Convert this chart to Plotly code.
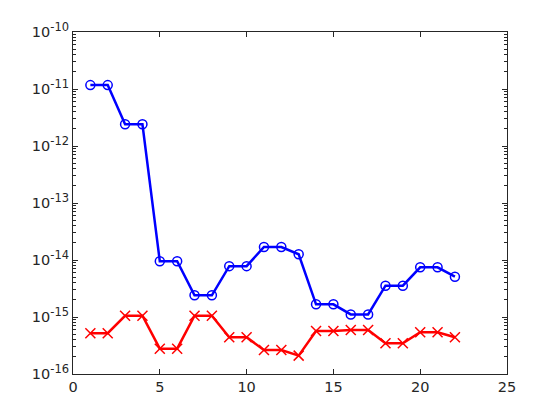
import plotly.graph_objects as go

x = list(range(1, 23))
blue = [1.17e-11, 1.17e-11, 2.4e-12, 2.4e-12, 9.5e-15, 9.5e-15, 2.4e-15, 2.4e-15,
        7.8e-15, 7.8e-15, 1.69e-14, 1.69e-14, 1.26e-14, 1.67e-15, 1.67e-15,
        1.11e-15, 1.11e-15, 3.54e-15, 3.54e-15, 7.45e-15, 7.45e-15, 5.1e-15]
red = [5.2e-16, 5.2e-16, 1.05e-15, 1.05e-15, 2.78e-16, 2.78e-16, 1.05e-15, 1.05e-15,
       4.4e-16, 4.4e-16, 2.64e-16, 2.64e-16, 2.1e-16, 5.7e-16, 5.7e-16,
       5.9e-16, 5.9e-16, 3.46e-16, 3.46e-16, 5.4e-16, 5.4e-16, 4.4e-16]

ytick_vals = [1e-16, 1e-15, 1e-14, 1e-13, 1e-12, 1e-11, 1e-10]
ytick_exps = ["-16", "-15", "-14", "-13", "-12", "-11", "-10"]
ytick_text = ["10<sup><span style='font-size:11.5px'>%s</span></sup>" % e for e in ytick_exps]
xtick_vals = [0, 5, 10, 15, 20, 25]
yminor_vals = [m * d for d in ytick_vals[:-1] for m in range(2, 10)]

fig = go.Figure()
fig.add_trace(go.Scatter(x=x, y=blue, mode="lines+markers",
                         line=dict(color="#0000ff", width=2.5),
                         marker=dict(symbol="circle-open", size=9, color="#0000ff", line=dict(width=1.5))))
fig.add_trace(go.Scatter(x=x, y=red, mode="lines+markers",
                         line=dict(color="#ff0000", width=2.5),
                         marker=dict(symbol="x-thin-open", size=10, color="#ff0000", line=dict(width=1.5, color="#ff0000"))))

axcol = "#262626"
fig.update_layout(
    width=560, height=420, showlegend=False,
    paper_bgcolor="white", plot_bgcolor="white",
    margin=dict(l=65, r=61, t=24, b=54),
    font=dict(family="DejaVu Sans", size=14.5, color=axcol),
    xaxis=dict(range=[0, 25], tickvals=xtick_vals, ticks="inside", ticklen=5,
               showline=True, linecolor=axcol, linewidth=1, mirror="allticks",
               showgrid=False, zeroline=False, tickcolor=axcol),
    yaxis=dict(type="log", range=[-16, -10], tickvals=ytick_vals, ticktext=ytick_text,
               ticks="inside", ticklen=5, showline=True, linecolor=axcol, linewidth=1,
               mirror="allticks", showgrid=False, zeroline=False, tickcolor=axcol,
               minor=dict(tickvals=yminor_vals, ticks="inside", ticklen=3, tickcolor=axcol, showgrid=False)),
)
fig.write_html("out.html")
